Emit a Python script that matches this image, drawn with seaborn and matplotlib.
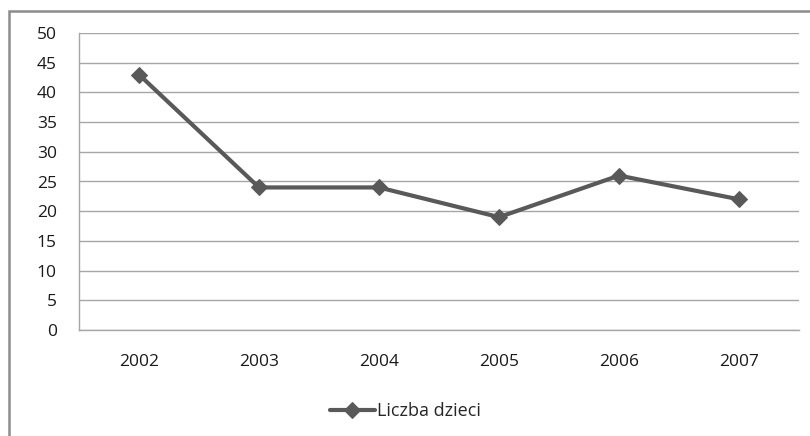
import matplotlib
matplotlib.use("Agg")
import matplotlib.pyplot as plt
import matplotlib.patches as patches
import seaborn as sns
import pandas as pd

# --- DATA ---
years = ["2002", "2003", "2004", "2005", "2006", "2007"]
liczba_dzieci = [43, 24, 24, 19, 26, 22]
series_name = "Liczba dzieci"

df = pd.DataFrame({"rok": years, "wartosc": liczba_dzieci})

# --- STYLE ---
sns.set_theme(style="white")
plt.rcParams['font.family'] = ['Open Sans', 'DejaVu Sans']

line_color = "#595959"
grid_color = "#a6a6a6"

fig = plt.figure(figsize=(8.1, 4.36), dpi=100)
ax = fig.add_axes([79 / 810, 1 - 330 / 436, 720 / 810, 297 / 436])

sns.lineplot(data=df, x="rok", y="wartosc", ax=ax, color=line_color,
             linewidth=3, marker="D", markersize=8, markeredgecolor=line_color,
             label=series_name, sort=False)

ax.set_xlim(-0.5, len(years) - 0.5)
ax.set_ylim(0, 50)
ax.set_yticks(range(0, 51, 5))
ax.set_xlabel("")
ax.set_ylabel("")
ax.grid(axis="y", color=grid_color, linewidth=1)
ax.set_axisbelow(True)
ax.tick_params(axis="both", length=0, labelsize=12.5, colors="#1a1a1a")
ax.tick_params(axis="x", pad=17)
ax.tick_params(axis="y", pad=16)

for side in ["top", "right"]:
    ax.spines[side].set_visible(False)
for side in ["left", "bottom"]:
    ax.spines[side].set_color(grid_color)
    ax.spines[side].set_linewidth(1)

leg = ax.legend(loc="center", bbox_to_anchor=(0.5, 1 - 411 / 436),
                bbox_transform=fig.transFigure, frameon=False, fontsize=13,
                handlelength=2.5, handletextpad=0.1)

# outer chart border (cut off at the right and bottom)
border = patches.Rectangle((9 / 810, -0.1), 1.1, 1 - 11 / 436 + 0.1,
                           transform=fig.transFigure, fill=False,
                           edgecolor="#8c8c8c", linewidth=1.8, clip_on=False)
fig.patches.append(border)

fig.savefig("out.png", dpi=100)
